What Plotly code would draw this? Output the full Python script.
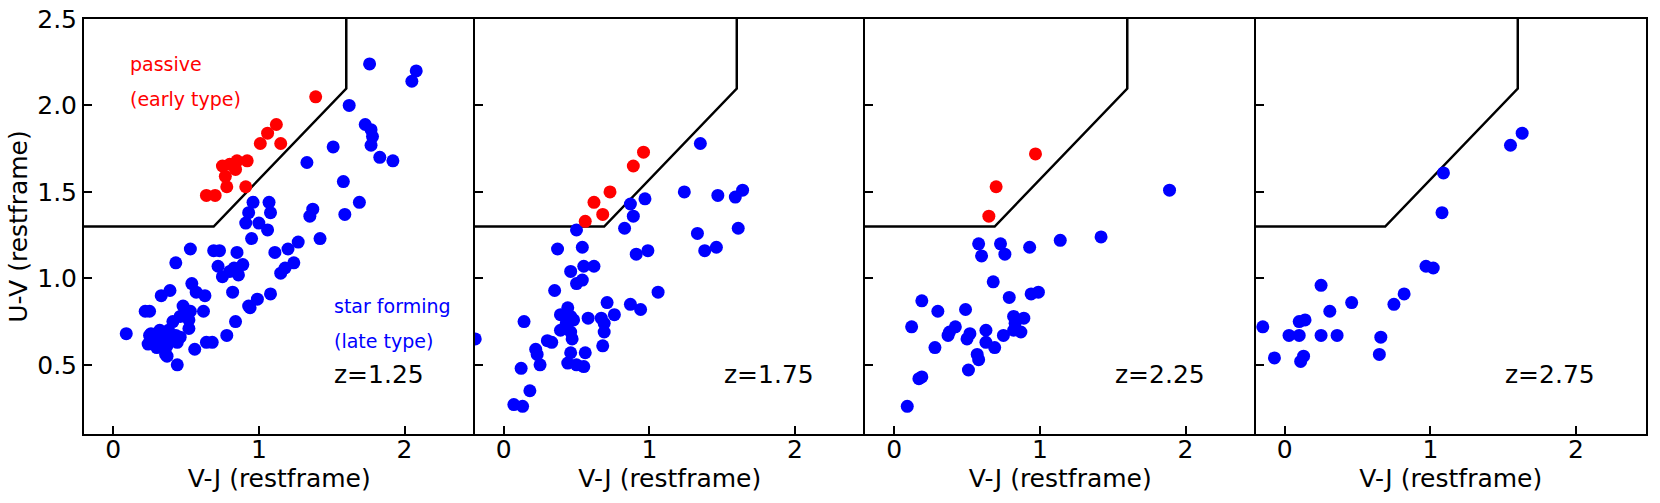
import plotly.graph_objects as go
from plotly.subplots import make_subplots

# UVJ diagrams in four redshift bins
redshifts = ["z=1.25", "z=1.75", "z=2.25", "z=2.75"]

# passive (early type) galaxies, V-J / U-V
red_vj_1 = [1.39, 1.12, 1.06, 1.01, 1.15, 0.92, 0.85, 0.80, 0.75, 0.84, 0.77, 0.78, 0.91, 0.64, 0.70]
red_uv_1 = [2.05, 1.89, 1.84, 1.78, 1.78, 1.68, 1.68, 1.66, 1.65, 1.63, 1.59, 1.53, 1.53, 1.48, 1.48]
red_vj_2 = [0.96, 0.89, 0.73, 0.62, 0.68, 0.56]
red_uv_2 = [1.73, 1.65, 1.50, 1.44, 1.37, 1.33]
red_vj_3 = [0.97, 0.70, 0.65]
red_uv_3 = [1.72, 1.53, 1.36]
red_vj_4 = []
red_uv_4 = []

# star forming (late type) galaxies
blue_vj_1 = [1.76, 2.08, 2.05, 1.62, 1.73, 1.77, 1.78, 1.77, 1.83, 1.92, 1.51, 1.33, 1.58, 1.69,
             1.59, 1.37, 1.35, 0.96, 1.07, 0.93, 1.08, 0.91, 1.00, 1.06, 0.95, 1.27, 1.42,
             0.53, 0.69, 0.73, 0.85, 1.11, 1.20, 0.43, 0.72, 0.83, 0.89, 0.75, 0.86, 0.80,
             1.15, 1.24, 1.18, 0.54, 0.57, 0.63, 0.39, 0.33, 0.82, 1.08, 0.99, 0.94, 0.22,
             0.25, 0.48, 0.53, 0.62, 0.46, 0.41, 0.52, 0.52, 0.84, 0.09, 0.26, 0.32, 0.38,
             0.43, 0.46, 0.37, 0.31, 0.24, 0.30, 0.37, 0.44, 0.78, 0.64, 0.68, 0.56, 0.37,
             0.44, 0.36, 0.25, 0.93]
blue_uv_1 = [2.24, 2.20, 2.14, 2.00, 1.89, 1.86, 1.82, 1.77, 1.70, 1.68, 1.76, 1.67, 1.56, 1.44,
             1.37, 1.40, 1.36, 1.44, 1.44, 1.38, 1.38, 1.32, 1.32, 1.28, 1.23, 1.21, 1.23,
             1.17, 1.16, 1.16, 1.15, 1.15, 1.17, 1.09, 1.07, 1.06, 1.08, 1.01, 1.02, 1.04,
             1.03, 1.09, 1.06, 0.97, 0.92, 0.90, 0.93, 0.90, 0.92, 0.91, 0.88, 0.83, 0.81,
             0.81, 0.84, 0.81, 0.81, 0.78, 0.75, 0.76, 0.71, 0.75, 0.68, 0.68, 0.70, 0.70,
             0.67, 0.66, 0.65, 0.65, 0.62, 0.60, 0.61, 0.63, 0.67, 0.63, 0.63, 0.59, 0.55,
             0.50, 0.56, 0.67, 0.84]
blue_vj_2 = [1.35, 1.24, 1.47, 1.59, 1.64, 1.61, 1.33, 1.38, 1.46, 0.97, 0.87, 0.89, 0.83, 0.50,
             0.37, 0.54, 0.91, 0.99, 0.46, 0.55, 0.62, 0.50, 0.54, 0.35, 1.06, 0.71, 0.76,
             0.87, 0.94, 0.14, -0.195, 0.39, 0.44, 0.46, 0.48, 0.43, 0.58, 0.67, 0.69, 0.69,
             0.68, 0.39, 0.46, 0.47, 0.30, 0.33, 0.22, 0.23, 0.25, 0.46, 0.56, 0.44, 0.50,
             0.55, 0.12, 0.18, 0.07, 0.13]
blue_uv_2 = [1.78, 1.50, 1.48, 1.47, 1.51, 1.29, 1.26, 1.16, 1.18, 1.46, 1.43, 1.36, 1.29, 1.28,
             1.17, 1.18, 1.14, 1.16, 1.04, 1.07, 1.07, 0.97, 0.99, 0.93, 0.92, 0.86, 0.79,
             0.85, 0.82, 0.75, 0.65, 0.79, 0.83, 0.78, 0.76, 0.74, 0.77, 0.77, 0.74, 0.69,
             0.61, 0.70, 0.69, 0.65, 0.64, 0.63, 0.59, 0.56, 0.50, 0.57, 0.57, 0.51, 0.50,
             0.49, 0.48, 0.35, 0.27, 0.26]
blue_vj_3 = [1.89, 1.42, 1.14, 0.93, 0.58, 0.73, 0.60, 0.76, 0.68, 0.79, 0.94, 0.99, 0.19, 0.30,
             0.49, 0.12, 0.42, 0.38, 0.37, 0.52, 0.50, 0.63, 0.63, 0.69, 0.75, 0.82, 0.89,
             0.83, 0.87, 0.82, 0.28, 0.57, 0.58, 0.51, 0.17, 0.19, 0.09]
blue_uv_3 = [1.51, 1.24, 1.22, 1.18, 1.20, 1.20, 1.13, 1.14, 0.98, 0.89, 0.91, 0.92, 0.87, 0.81,
             0.82, 0.72, 0.72, 0.69, 0.67, 0.68, 0.65, 0.70, 0.63, 0.60, 0.67, 0.78, 0.77,
             0.74, 0.69, 0.70, 0.60, 0.56, 0.53, 0.47, 0.42, 0.43, 0.26]
blue_vj_4 = [1.63, 1.55, 1.09, 1.08, 0.97, 1.02, 0.82, 0.75, 0.25, 0.46, 0.31, 0.14, 0.10, -0.15,
             0.03, 0.10, 0.25, 0.36, 0.66, 0.65, -0.07, 0.13, 0.11]
blue_uv_4 = [1.84, 1.77, 1.61, 1.38, 1.07, 1.06, 0.91, 0.85, 0.96, 0.86, 0.81, 0.76, 0.75, 0.72,
             0.67, 0.67, 0.67, 0.67, 0.66, 0.56, 0.54, 0.55, 0.52]

# selection box corners (V-J, U-V)
box_vj = [-0.2, 0.69, 1.6, 1.6]
box_uv = [1.3, 1.3, 2.098, 2.5]

red_vj = [red_vj_1, red_vj_2, red_vj_3, red_vj_4]
red_uv = [red_uv_1, red_uv_2, red_uv_3, red_uv_4]
blue_vj = [blue_vj_1, blue_vj_2, blue_vj_3, blue_vj_4]
blue_uv = [blue_uv_1, blue_uv_2, blue_uv_3, blue_uv_4]

FONT = "DejaVu Sans"

fig = make_subplots(rows=1, cols=4, shared_yaxes=True, horizontal_spacing=0)

for i in range(4):
    col = i + 1
    fig.add_trace(go.Scatter(x=box_vj, y=box_uv, mode="lines",
                             line=dict(color="black", width=2.5), showlegend=False,
                             hoverinfo="skip"), row=1, col=col)
    fig.add_trace(go.Scatter(x=blue_vj[i], y=blue_uv[i], mode="markers",
                             marker=dict(color="#0000ff", size=13, line=dict(width=0)),
                             showlegend=False), row=1, col=col)
    if red_vj[i]:
        fig.add_trace(go.Scatter(x=red_vj[i], y=red_uv[i], mode="markers",
                                 marker=dict(color="#ff0000", size=13, line=dict(width=0)),
                                 showlegend=False), row=1, col=col)
    xname = "x" if i == 0 else "x%d" % col
    yname = "y" if i == 0 else "y%d" % col
    fig.add_annotation(x=1.50, y=0.444, xref=xname, yref=yname, text=redshifts[i],
                       showarrow=False, xanchor="left", yanchor="middle",
                       font=dict(family=FONT, size=25, color="black"))
    fig.update_xaxes(range=[-0.2, 2.48], tickvals=[0, 1, 2], ticktext=["0", "1", "2"],
                     ticks="inside", ticklen=8, tickwidth=2, tickcolor="black",
                     showline=True, linewidth=2, linecolor="black", mirror=True,
                     showgrid=False, zeroline=False, automargin=False,
                     ticklabelstandoff=-8,
                     tickfont=dict(family=FONT, size=25, color="black"),
                     title=dict(text="V-J (restframe)", standoff=4,
                                font=dict(family=FONT, size=25, color="black")),
                     row=1, col=col)
    # only the last panel closes the frame on the right
    fig.update_yaxes(mirror=(col == 4), row=1, col=col)

fig.update_yaxes(range=[0.1, 2.5], tickvals=[0.5, 1.0, 1.5, 2.0, 2.5],
                 ticktext=["0.5", "1.0", "1.5", "2.0", "2.5"],
                 ticks="inside", ticklen=8, tickwidth=2, tickcolor="black",
                 showline=True, linewidth=2, linecolor="black",
                 showgrid=False, zeroline=False, automargin=False,
                 tickfont=dict(family=FONT, size=25, color="black"))
fig.update_yaxes(title=dict(text="U-V (restframe)", standoff=2,
                            font=dict(family=FONT, size=25, color="black")),
                 row=1, col=1)

# class labels in the first panel
labels = [("passive", 2.24, "#ff0000", 0.10), ("(early type)", 2.04, "#ff0000", 0.10),
          ("star forming", 0.838, "#0000ff", 1.50), ("(late type)", 0.636, "#0000ff", 1.50)]
for text, yv, color, xv in labels:
    fig.add_annotation(x=xv, y=yv, xref="x", yref="y", text=text, showarrow=False,
                       xanchor="left", yanchor="middle",
                       font=dict(family=FONT, size=19, color=color))

fig.update_layout(width=1660, height=503, plot_bgcolor="white", paper_bgcolor="white",
                  margin=dict(l=84, r=14, t=19, b=69),
                  font=dict(family=FONT, color="black"))

# drop the browser's default page margin so the figure sits at the window corner
fig.write_html("out.html", config={"displayModeBar": False},
               post_script="document.body.style.margin='0';")
